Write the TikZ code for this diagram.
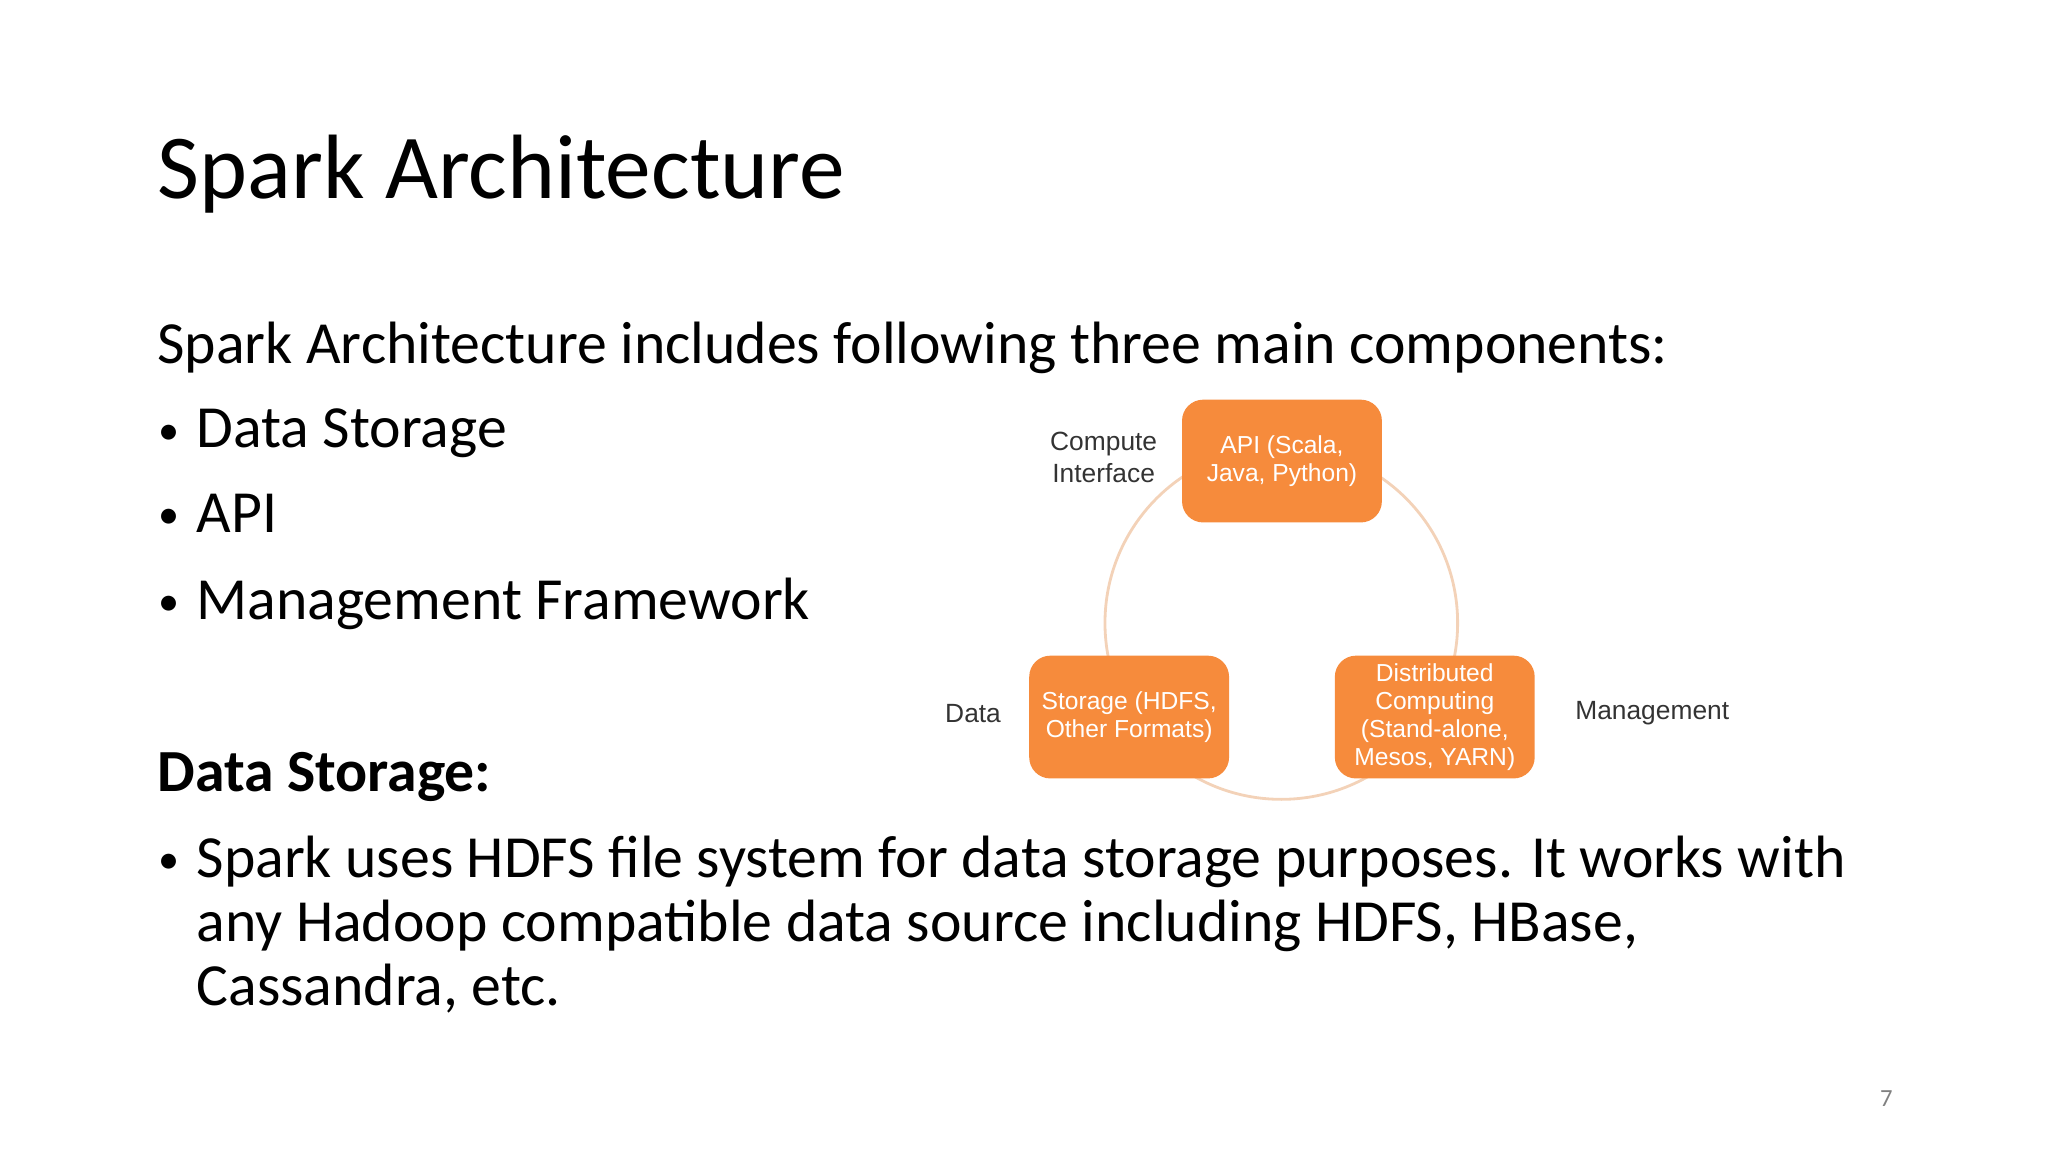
\documentclass[tikz,border=0pt]{standalone}
\usepackage{fontspec}
\setmainfont{Carlito}
\newfontfamily\arialf{Liberation Sans}
\definecolor{boxor}{HTML}{F68B3C}
\definecolor{ringc}{HTML}{F3D2B8}
\definecolor{lblc}{HTML}{333333}
\begin{document}
\begin{tikzpicture}[x=0.01306cm,y=-0.01306cm,
  txt/.style={anchor=base west,inner sep=0pt,text=black},
  bul/.style={anchor=base west,inner sep=0pt,text=black,font=\fontsize{12}{14}\selectfont},
  box/.style={fill=boxor,rounded corners=6pt,minimum width=153*0.01306cm,minimum height=94*0.01306cm,text=white,font=\arialf\fontsize{7}{8}\selectfont,align=center,inner sep=0pt},
  lbl/.style={text=lblc,font=\arialf\fontsize{7.5}{9}\selectfont,align=center,inner sep=0pt}]
\useasboundingbox (0,0) rectangle (1568,882);
\node[txt,font=\fontsize{26}{31}\selectfont] (title) at (120,152) {Spark Architecture};
\node[txt,font=\fontsize{17}{20}\selectfont] (intro) at (120,278) {Spark Architecture includes following three main components:};
\foreach \y/\t/\n in {343/Data Storage/b1,408/API/b2,474/Management Framework/b3}{
  \node[bul] at (121,\y-3) {•};
  \node[txt,font=\fontsize{17}{20}\selectfont] (\n) at (150,\y) {\t};
}
\node[txt,font=\fontsize{17}{20}\selectfont\bfseries] (ds) at (120,606) {Data Storage:};
\node[bul] at (121,669) {•};
\node[txt,font=\fontsize{17}{20}\selectfont] (p1) at (150,672) {Spark uses HDFS file system for data storage purposes. It works with};
\node[txt,font=\fontsize{17}{20}\selectfont] (p2) at (150,721) {any Hadoop compatible data source including HDFS, HBase,};
\node[txt,font=\fontsize{17}{20}\selectfont] (p3) at (150,770) {Cassandra, etc.};
\node[txt,text=gray,font=\fontsize{7}{8}\selectfont] (pg) at (1439,847) {7};
\draw[ringc,line width=0.8pt] (981,477) circle[radius=135*0.01306cm];
\node[box] (api) at (981.5,353) {API (Scala,\\Java, Python)};
\node[box] (stor) at (864.5,549) {Storage (HDFS,\\Other Formats)};
\node[box] (dist) at (1098.5,549) {Distributed\\Computing\\(Stand-alone,\\Mesos, YARN)};
\node[lbl] (ci) at (845,350) {Compute\\Interface};
\node[lbl] (dl) at (745,546) {Data};
\node[lbl] (ml) at (1265,546) {Management};
\end{tikzpicture}
\end{document}
